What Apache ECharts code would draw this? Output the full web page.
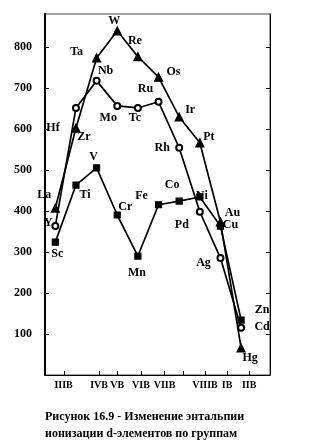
<!DOCTYPE html>
<html><head><meta charset="utf-8">
<script src="https://cdn.jsdelivr.net/npm/echarts@6/dist/echarts.min.js"></script>
<style>html,body{margin:0;padding:0;background:#fff}#c{width:321px;height:444px}</style>
</head><body><div id="c"></div>
<script>
// ---- data ----
const groups = ['IIIB','IVB','VB','VIB','VIIB','VIIIB-1','VIIIB-2','VIIIB-3','IB','IIB'];
const period4 = ['Sc','Ti','V','Cr','Mn','Fe','Co','Ni','Cu','Zn'];
const period4Values = [324, 463, 505, 390, 290, 415, 424, 434, 363, 134];
const period5 = ['Y','Zr','Nb','Mo','Tc','Ru','Rh','Pd','Ag','Cd'];
const period5Values = [363, 651, 717, 656, 651, 666, 554, 398, 285, 115];
const period6 = ['La','Hf','Ta','W','Re','Os','Ir','Pt','Au','Hg'];
const period6Values = [407, 602, 773, 839, 776, 726, 629, 566, 373, 66];
const xTickLabels = ['IIIB','IVB','VB','VIB','VIIB','VIIIB','IB','IIB'];
const yTickLabels = [100, 200, 300, 400, 500, 600, 700, 800];
const captionText = 'Рисунок 16.9 - Изменение энтальпии\nионизации d-элементов по группам';

// ---- layout (positions of the hand-placed labels/ticks, offsets of point labels) ----
const xLabelAt = [0.4, 2.12, 3.0, 4.15, 5.29, 7.25, 8.32, 9.39];
const xTickAt = [0.42, 2.12, 2.99, 4.15, 5.29, 6.19, 7.25, 8.32, 9.39];
const off4 = [[2,12],[9,10],[-3,-11],[8,-8],[-1,17],[-17,-9],[-7,-16],[2,-1],[10,-1],[21,-10]];
const off5 = [[-7,-3],[8,29],[9,-10],[-9,12],[-3,10],[-13,-13],[-17,0],[-18,13],[-17,5],[21,-1]];
const off6 = [[-11,-13],[-23,0],[-20,-6],[-3,-10],[-3,-16],[15,-5],[11,-7],[9,-6],[12,-9],[9,10]];

const serif = 'Liberation Serif';
const lblStyle = {show:true, position:'inside', color:'#000', fontFamily:serif, fontWeight:'bold', fontSize:12, formatter: p => p.name};

function mk(names, vals, offs, symbol, size) {
  return {
    type:'line', symbol, symbolSize:size, showAllSymbol:true,
    lineStyle:{color:'#000', width:1.7}, itemStyle:{color:'#000', borderColor:'#000', borderWidth:1.2},
    label: lblStyle,
    data: vals.map((v,i) => ({name:names[i], value:[i, v], label:{offset:offs[i]}})),
    z: 3
  };
}

const chart = echarts.init(document.getElementById('c'), null, {renderer:'canvas'});
chart.setOption({
  animation:false,
  backgroundColor:'#fff',
  title:{text:captionText, left:40, top:403, textStyle:{fontFamily:serif, fontWeight:'bold', fontSize:12, lineHeight:17, color:'#000'}},
  grid:{left:45, right:51, top:14, bottom:69, show:true, borderColor:'#444', borderWidth:1, outerBoundsMode:'none'},
  xAxis:{type:'value', min:-0.5, max:10.4,
    axisLine:{show:true, onZero:false, lineStyle:{color:'#000', width:1}},
    axisTick:{show:true, inside:true, length:4, customValues:xTickAt, lineStyle:{color:'#000'}},
    axisLabel:{customValues:xLabelAt, margin:5, color:'#000', fontFamily:serif, fontWeight:'bold', fontSize:10,
      formatter: v => { const k = xLabelAt.findIndex(a => Math.abs(a - v) < 1e-6); return k >= 0 ? xTickLabels[k] : ''; }},
    splitLine:{show:false}},
  yAxis:[
    {type:'value', min:0, max:880, position:'left',
      axisLine:{show:true, onZero:false, lineStyle:{color:'#000', width:2}},
      axisTick:{show:true, inside:true, length:4, customValues:yTickLabels, lineStyle:{color:'#000'}},
      axisLabel:{customValues:yTickLabels, margin:13, color:'#000', fontFamily:serif, fontWeight:'bold', fontSize:12, padding:[7,0,0,0]},
      splitLine:{show:false}},
    {type:'value', min:0, max:880, position:'right',
      axisLine:{show:true, onZero:false, lineStyle:{color:'#000', width:1}},
      axisTick:{show:true, inside:true, length:4, customValues:yTickLabels, lineStyle:{color:'#000'}},
      axisLabel:{show:false}, splitLine:{show:false}}
  ],
  series:[
    mk(period6, period6Values, off6, 'triangle', 8),
    mk(period5, period5Values, off5, 'emptyCircle', 6),
    mk(period4, period4Values, off4, 'rect', 6)
  ]
});
</script></body></html>
